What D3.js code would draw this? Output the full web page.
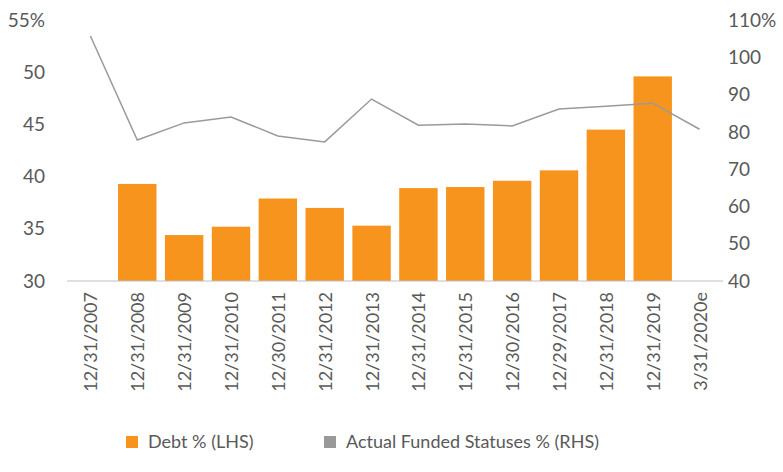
<!DOCTYPE html>
<html><head><meta charset="utf-8">
<script src="https://cdn.jsdelivr.net/npm/d3@7"></script>
<style>body{margin:0;background:#fff}text{font-family:Lato,"Open Sans",sans-serif;fill:#595959}</style>
</head><body>
<script>
var categories = ["12/31/2007","12/31/2008","12/31/2009","12/31/2010","12/30/2011","12/31/2012","12/31/2013","12/31/2014","12/31/2015","12/30/2016","12/29/2017","12/31/2018","12/31/2019","3/31/2020e"];
var debt = [null,39.3,34.4,35.2,37.9,37.0,35.3,38.9,39.0,39.6,40.6,44.5,49.6,null];
var funded = [105.7,77.8,82.4,84.0,78.9,77.3,88.8,81.8,82.1,81.6,86.1,86.9,87.7,80.7];
var leftTicks = [30,35,40,45,50,55];
var rightTicks = [40,50,60,70,80,90,100,110];

var w = 783, h = 472;
var svg = d3.select("body").append("svg").attr("width", w).attr("height", h);

var x = d3.scaleBand().domain(categories).range([67, 723]).paddingInner(0.18).paddingOuter(0.09);
var yL = d3.scaleLinear().domain([30, 55]).range([281, 20]);
var yR = d3.scaleLinear().domain([40, 110]).range([281, 20]);

svg.selectAll("rect.bar").data(categories).enter().append("rect")
    .attr("class", "bar")
    .filter(function (d, i) { return debt[i] != null; })
    .attr("x", function (d) { return x(d); })
    .attr("width", x.bandwidth())
    .attr("y", function (d) { return yL(debt[categories.indexOf(d)]); })
    .attr("height", function (d) { return 281 - yL(debt[categories.indexOf(d)]); })
    .attr("fill", "#F7941D");

svg.append("line").attr("x1", 67).attr("x2", 723).attr("y1", 281).attr("y2", 281)
    .attr("stroke", "#bfbfbf").attr("stroke-width", 1);

var line = d3.line()
    .x(function (d, i) { return x(categories[i]) + x.bandwidth() / 2; })
    .y(function (d) { return yR(d); });
svg.append("path").datum(funded).attr("d", line)
    .attr("fill", "none").attr("stroke", "#9a9a9a").attr("stroke-width", 1.5);

svg.selectAll("text.yl").data(leftTicks).enter().append("text")
    .attr("x", 45).attr("y", function (d) { return yL(d); }).attr("dy", "0.35em")
    .attr("text-anchor", "end").attr("font-size", 19)
    .text(function (d) { return d === 55 ? d + "%" : d; });

svg.selectAll("text.yr").data(rightTicks).enter().append("text")
    .attr("x", 728).attr("y", function (d) { return yR(d); }).attr("dy", "0.35em")
    .attr("font-size", 19)
    .text(function (d) { return d === 110 ? d + "%" : d; });

svg.selectAll("text.xl").data(categories).enter().append("text")
    .attr("transform", function (d) { return "translate(" + (x(d) + x.bandwidth() / 2 + 7) + ",292) rotate(-90)"; })
    .attr("text-anchor", "end").attr("font-size", 18)
    .text(function (d) { return d; });

var legend = [{ label: "Debt % (LHS)", color: "#F7941D", x: 126 }, { label: "Actual Funded Statuses % (RHS)", color: "#999999", x: 324 }];
var lg = svg.selectAll("g.lg").data(legend).enter().append("g")
    .attr("transform", function (d) { return "translate(" + d.x + ",442)"; });
lg.append("rect").attr("x", 0).attr("y", -6).attr("width", 12).attr("height", 12)
    .attr("fill", function (d) { return d.color; });
lg.append("text").attr("x", 22).attr("dy", "0.35em").attr("font-size", 18)
    .text(function (d) { return d.label; });
</script>
</body></html>
